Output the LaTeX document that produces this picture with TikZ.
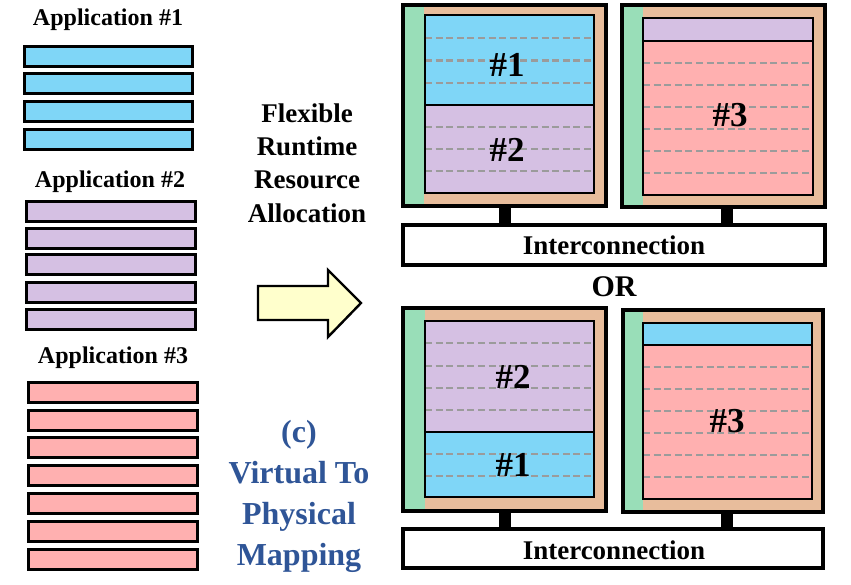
\documentclass[tikz,border=0pt]{standalone}
\usepackage{fontspec}
\setmainfont{Liberation Serif}
\definecolor{appblue}{RGB}{127,214,247}
\definecolor{apppurple}{RGB}{213,192,227}
\definecolor{apppink}{RGB}{255,176,176}
\definecolor{pegreen}{RGB}{153,222,184}
\definecolor{petan}{RGB}{232,189,156}
\definecolor{dashgray}{RGB}{155,155,155}
\definecolor{arrowyellow}{RGB}{255,255,204}
\definecolor{textblue}{RGB}{47,85,151}
\newcommand\rnode[6]{\node[#2, minimum width={#5pt-#3pt}, minimum height={#6pt-#4pt}] (#1) at ({(#3+#5)/2},{(#4+#6)/2}) {};}
\begin{document}
\begin{tikzpicture}[x=1pt,y=-1pt,font=\bfseries,
  every node/.style={inner sep=0pt, outer sep=0pt},
  bar/.style={rectangle, draw=black, line width=3pt},
  region/.style={rectangle},
  outerframe/.style={draw=black, line width=4.2pt},
  innerframe/.style={draw=black, line width=2.5pt},
  icbox/.style={rectangle, draw=black, line width=3.4pt, fill=white},
  rowline/.style={draw=dashgray, line width=2.4pt, dash pattern=on 7pt off 3.6pt},
  stub/.style={line width=12pt, draw=black},
  apptitle/.style={font=\bfseries\fontsize{24}{28}\selectfont},
  pelabel/.style={font=\bfseries\fontsize{35}{38}\selectfont}]
\useasboundingbox (0,0) rectangle (851,584);

% ---------- Applications ----------
\node[apptitle] (t1) at (108,20) {Application \#1};
\foreach \c [count=\i] in {56,83.7,111.4,139.1}
  \node[bar, fill=appblue, minimum width=168pt, minimum height=20pt] (a1b\i) at (108,\c) {};

\node[apptitle] (t2) at (110,182) {Application \#2};
\foreach \c [count=\i] in {211,238,264.5,292,319}
  \node[bar, fill=apppurple, minimum width=169pt, minimum height=20pt] (a2b\i) at (110.5,\c) {};

\node[apptitle] (t3) at (113,358) {Application \#3};
\foreach \c [count=\i] in {392,420,447.5,475.5,503.5,531.5,559.5}
  \node[bar, fill=apppink, minimum width=169pt, minimum height=20pt] (a3b\i) at (112.5,\c) {};

% ---------- middle text and arrow ----------
\node[align=center, font=\bfseries\fontsize{27}{33.3}\selectfont] (flex) at (307,163) {Flexible\\Runtime\\Resource\\Allocation};
\draw[line width=2.4pt, fill=arrowyellow, line join=miter]
  (258,286) -- (328,286) -- (328,270) -- (361,303) -- (328,337) -- (328,320) -- (258,320) -- cycle;
\node[align=center, text=textblue, font=\bfseries\fontsize{32}{41}\selectfont] (vtp) at (299,496) {(c)\\Virtual To\\Physical\\Mapping};

% ---------- top configuration ----------
% left PE
\rnode{pA}{region, fill=petan}{403}{5}{606}{206}
\rnode{gA}{region, fill=pegreen}{403}{5}{424}{206}
\rnode{pAr1}{region, fill=appblue}{425}{15}{594}{105}
\rnode{pAr2}{region, fill=apppurple}{425}{105}{594}{193}
\foreach \y in {38,60.5,83,127,149,171} \draw[rowline] (425,\y) -- (594,\y);
\draw[innerframe] (pAr1.north west) rectangle (pAr2.south east);
\draw[innerframe] (pAr1.south west) -- (pAr1.south east);
\draw[outerframe] (pA.north west) rectangle (pA.south east);
\node[pelabel] (lA1) at (507,65) {\#1};
\node[pelabel] (lA2) at (507,150) {\#2};
% right PE
\rnode{pB}{region, fill=petan}{622}{5}{825}{207}
\rnode{gB}{region, fill=pegreen}{622}{5}{643}{207}
\rnode{pBr1}{region, fill=apppurple}{643}{18}{813}{41}
\rnode{pBr2}{region, fill=apppink}{643}{41}{813}{195}
\foreach \y in {63,85,107,129,151,173} \draw[rowline] (643,\y) -- (813,\y);
\draw[innerframe] (pBr1.north west) rectangle (pBr2.south east);
\draw[innerframe] (pBr1.south west) -- (pBr1.south east);
\draw[outerframe] (pB.north west) rectangle (pB.south east);
\node[pelabel] (lB3) at (730,115) {\#3};
% interconnection
\rnode{icT}{icbox}{403}{225}{825}{265}
\node[font=\bfseries\fontsize{27}{30}\selectfont] (icTl) at (614,245) {Interconnection};
\coordinate (sA) at (505,206);
\coordinate (sB) at (727,207);
\draw[stub] (sA) -- (sA |- icT.north);
\draw[stub] (sB) -- (sB |- icT.north);

\node[font=\bfseries\fontsize{30}{34}\selectfont] (or) at (614,287) {OR};

% ---------- bottom configuration ----------
\rnode{pC}{region, fill=petan}{403}{308}{606}{511}
\rnode{gC}{region, fill=pegreen}{403}{308}{425}{511}
\rnode{pCr1}{region, fill=apppurple}{425}{321}{594}{432}
\rnode{pCr2}{region, fill=appblue}{425}{432}{594}{497}
\foreach \y in {343,366,388,410,454,476} \draw[rowline] (425,\y) -- (594,\y);
\draw[innerframe] (pCr1.north west) rectangle (pCr2.south east);
\draw[innerframe] (pCr1.south west) -- (pCr1.south east);
\draw[outerframe] (pC.north west) rectangle (pC.south east);
\node[pelabel] (lC2) at (513,377) {\#2};
\node[pelabel] (lC1) at (513,465) {\#1};
% right PE
\rnode{pD}{region, fill=petan}{623}{310}{823}{512}
\rnode{gD}{region, fill=pegreen}{623}{310}{643}{512}
\rnode{pDr1}{region, fill=appblue}{643}{323}{812}{345}
\rnode{pDr2}{region, fill=apppink}{643}{345}{812}{499}
\foreach \y in {367,389,411,433,455,477} \draw[rowline] (643,\y) -- (812,\y);
\draw[innerframe] (pDr1.north west) rectangle (pDr2.south east);
\draw[innerframe] (pDr1.south west) -- (pDr1.south east);
\draw[outerframe] (pD.north west) rectangle (pD.south east);
\node[pelabel] (lD3) at (727,421) {\#3};
% interconnection
\rnode{icB}{icbox}{403}{529}{823}{568}
\node[font=\bfseries\fontsize{27}{30}\selectfont] (icBl) at (614,550) {Interconnection};
\coordinate (sC) at (505,511);
\coordinate (sD) at (727,512);
\draw[stub] (sC) -- (sC |- icB.north);
\draw[stub] (sD) -- (sD |- icB.north);
\end{tikzpicture}
\end{document}
